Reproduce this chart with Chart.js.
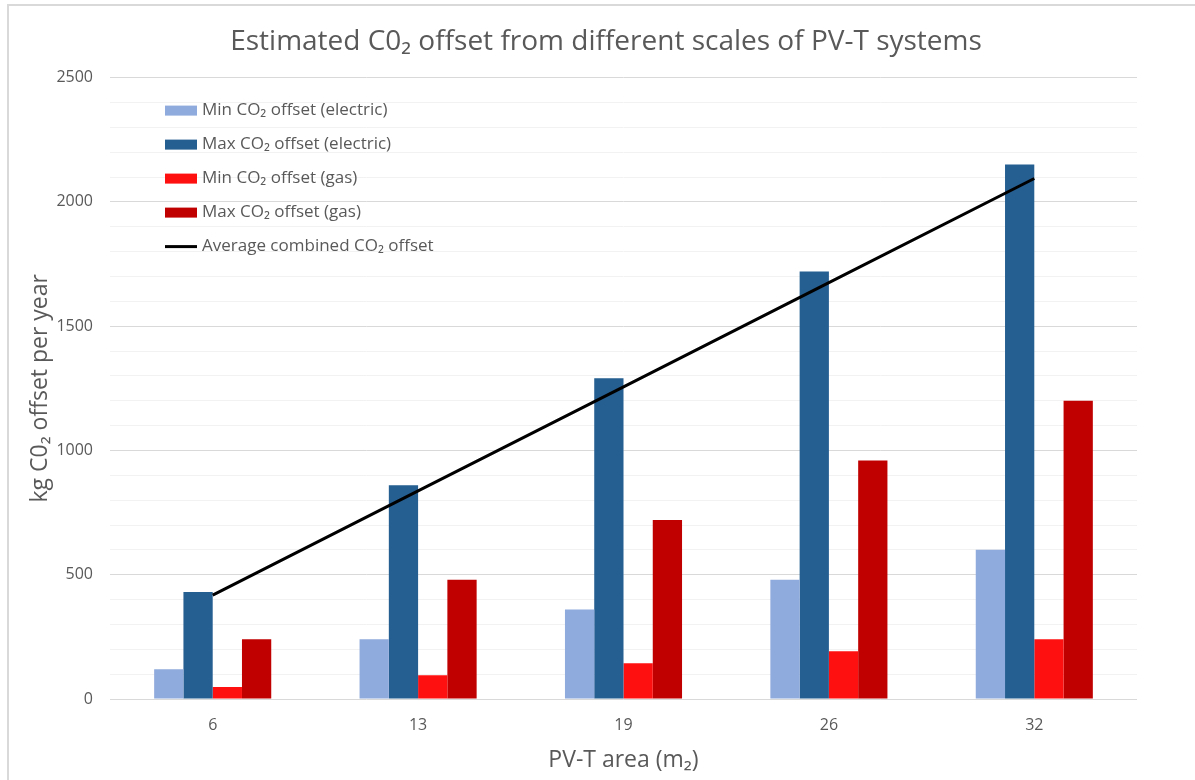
<!DOCTYPE html>
<html>
<head>
<meta charset="utf-8">
<script src="https://cdn.jsdelivr.net/npm/chart.js@4"></script>
<style>
  html, body { margin: 0; padding: 0; background: #fff; }
  #wrap { position: relative; width: 1195px; height: 780px; }
  #frame { position: absolute; left: 7px; top: 4px; right: -10px; bottom: -10px;
           border-left: 2px solid #d9d9d9; border-top: 2px solid #d9d9d9; pointer-events: none; }
  canvas { position: absolute; left: 0; top: 0; }
</style>
</head>
<body>
<div id="wrap">
  <canvas id="co2Chart" width="1195" height="780"></canvas>
  <div id="frame"></div>
</div>
<script>
// data
const areas = ['6', '13', '19', '26', '32'];
const minElectric = [120, 240, 360, 480, 600];
const maxElectric = [430, 860, 1290, 1720, 2150];
const minGas = [48, 96, 144, 192, 240];
const maxGas = [240, 480, 720, 960, 1200];
const avgCombined = [418, 837, 1256, 1675, 2094];
const yTickLabels = [0, 500, 1000, 1500, 2000, 2500];

let textColor = '#595959';
let fontName = '"Open Sans", "Noto Sans", sans-serif';

// legend drawn inside the plot, top left, like the Excel one
const insideLegend = {
    id: 'insideLegend',
    afterDraw(chart) {
        let ctx = chart.ctx;
        let x = chart.chartArea.left + 55;
        let y = chart.chartArea.top + 33;
        ctx.save();
        ctx.font = '17px ' + fontName;
        ctx.textBaseline = 'middle';
        chart.data.datasets.forEach((ds, i) => {
            let cy = y + i * 34;
            if (ds.type === 'line') {
                ctx.strokeStyle = ds.borderColor;
                ctx.lineWidth = 3;
                ctx.beginPath();
                ctx.moveTo(x, cy);
                ctx.lineTo(x + 32, cy);
                ctx.stroke();
            } else {
                ctx.fillStyle = ds.backgroundColor;
                ctx.fillRect(x, cy - 5, 32, 10);
            }
            ctx.fillStyle = textColor;
            ctx.fillText(ds.label, x + 37, cy);
        });
        ctx.restore();
    }
};

let ctx = document.getElementById('co2Chart').getContext('2d');
let co2Chart = new Chart(ctx, {
    type: 'bar',
    data: {
        labels: areas,
        datasets: [
            {
                label: 'Min CO\u2082 offset (electric)',
                data: minElectric,
                backgroundColor: '#8faadc',
                borderWidth: 0,
                order: 1
            },
            {
                label: 'Max CO\u2082 offset (electric)',
                data: maxElectric,
                backgroundColor: '#255e91',
                borderWidth: 0,
                order: 1
            },
            {
                label: 'Min CO\u2082 offset (gas)',
                data: minGas,
                backgroundColor: '#ff1010',
                borderWidth: 0,
                order: 1
            },
            {
                label: 'Max CO\u2082 offset (gas)',
                data: maxGas,
                backgroundColor: '#c00000',
                borderWidth: 0,
                order: 1
            },
            {
                type: 'line',
                label: 'Average combined CO\u2082 offset',
                data: avgCombined,
                borderColor: '#000000',
                backgroundColor: '#000000',
                borderWidth: 3,
                pointRadius: 0,
                fill: false,
                order: 0
            }
        ]
    },
    options: {
        responsive: false,
        animation: false,
        layout: { padding: { left: 17, right: 0, top: 5, bottom: 0 } },
        datasets: {
            bar: { categoryPercentage: 0.57, barPercentage: 1.0 }
        },
        plugins: {
            legend: { display: false },
            tooltip: { enabled: false },
            title: {
                display: true,
                text: 'Estimated C0\u2082 offset from different scales of PV-T systems',
                color: textColor,
                font: { family: fontName, size: 28, weight: 'normal' },
                padding: { top: 20, bottom: 19 }
            }
        },
        scales: {
            x: {
                grid: { display: false, drawTicks: false },
                border: { display: false },
                ticks: {
                    color: textColor,
                    font: { family: fontName, size: 16 },
                    padding: 17
                },
                title: {
                    display: true,
                    text: 'PV-T area (m\u2082)',
                    color: textColor,
                    font: { family: fontName, size: 23 },
                    padding: { top: 0, bottom: 6 }
                },
                afterFit: function (scale) { scale.height = 81; }
            },
            y: {
                min: 0,
                max: 2500,
                grid: {
                    drawTicks: false,
                    lineWidth: 1,
                    color: function (c) {
                        if (c.tick && yTickLabels.includes(c.tick.value)) return '#d9d9d9';
                        return '#f2f2f2';
                    }
                },
                border: { display: false },
                ticks: {
                    stepSize: 100,
                    maxTicksLimit: 40,
                    autoSkip: false,
                    color: textColor,
                    font: { family: fontName, size: 16 },
                    padding: 17,
                    callback: function (value) {
                        return yTickLabels.includes(value) ? value : '';
                    }
                },
                title: {
                    display: true,
                    text: 'kg C0\u2082 offset per year',
                    color: textColor,
                    font: { family: fontName, size: 23 },
                    padding: { top: 10, bottom: 0 }
                },
                afterFit: function (scale) { scale.width = 93; }
            },
            spacer: {
                type: 'linear',
                position: 'right',
                display: true,
                grid: { display: false, drawTicks: false },
                border: { display: false },
                ticks: { display: false },
                afterFit: function (scale) { scale.width = 58; }
            }
        }
    },
    plugins: [insideLegend]
});
</script>
</body>
</html>
